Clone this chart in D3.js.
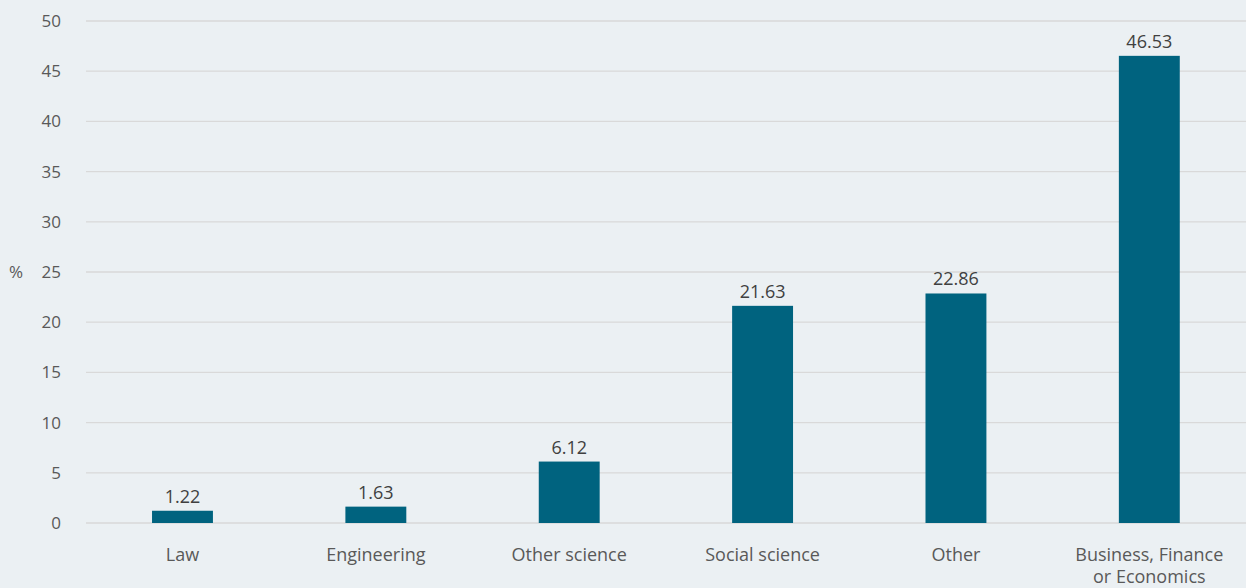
<!DOCTYPE html>
<html>
<head>
<meta charset="utf-8">
<script src="https://cdn.jsdelivr.net/npm/d3@7"></script>
<style>
  html, body { margin: 0; padding: 0; background: #ebf0f3; }
  svg { display: block; }
  text { font-family: "Open Sans", "Noto Sans", sans-serif; }
</style>
</head>
<body>
<svg id="chart" width="1246" height="588"></svg>
<script>
// Field of study shares (%)
const categories = ["Law", "Engineering", "Other science", "Social science", "Other", "Business, Finance\nor Economics"];
const values = [1.22, 1.63, 6.12, 21.63, 22.86, 46.53];
const yTicks = [0, 5, 10, 15, 20, 25, 30, 35, 40, 45, 50];

const W = 1246, H = 588;
const svg = d3.select("#chart");
svg.append("rect").attr("width", W).attr("height", H).attr("fill", "#ebf0f3");

const x = d3.scaleBand().domain(categories).range([85.8, 1246]).paddingInner(0.685).paddingOuter(0.3425);
const y = d3.scaleLinear().domain([0, 50]).range([523, 21]);

// Horizontal gridlines
svg.append("g").selectAll("line").data(yTicks).join("line")
  .attr("x1", 86).attr("x2", W)
  .attr("y1", d => y(d)).attr("y2", d => y(d))
  .attr("stroke", "#d9d9d9").attr("stroke-width", 1.3);

// Y axis labels
const yAxis = d3.axisLeft(y).tickValues(yTicks).tickSize(0).tickPadding(0);
const gy = svg.append("g").attr("transform", "translate(61,0)").call(yAxis);
gy.select(".domain").remove();
gy.selectAll("text").attr("font-size", 17).attr("fill", "#595959")
  .attr("font-family", "'Open Sans', sans-serif");

svg.append("text").attr("x", 16).attr("y", y(25)).attr("dy", "0.35em")
  .attr("text-anchor", "middle").attr("font-size", 17).attr("fill", "#595959").text("%");

// Bars
svg.append("g").selectAll("rect").data(values).join("rect")
  .attr("x", (d, i) => x(categories[i]))
  .attr("width", x.bandwidth())
  .attr("y", d => y(d))
  .attr("height", d => y(0) - y(d))
  .attr("fill", "#00637f");

// Value labels
svg.append("g").selectAll("text").data(values).join("text")
  .attr("x", (d, i) => x(categories[i]) + x.bandwidth() / 2)
  .attr("y", d => y(d) - 8)
  .attr("text-anchor", "middle").attr("font-size", 18).attr("fill", "#404040")
  .text(d => d.toFixed(2));

// Category labels
const cl = svg.append("g").selectAll("text").data(categories).join("text")
  .attr("x", d => x(d) + x.bandwidth() / 2)
  .attr("y", 561)
  .attr("text-anchor", "middle").attr("font-size", 18).attr("fill", "#595959");
cl.selectAll("tspan").data(d => d.split("\n").map(s => ({ s, cx: x(d) + x.bandwidth() / 2 })))
  .join("tspan")
  .attr("x", t => t.cx)
  .attr("dy", (t, i) => i === 0 ? 0 : 22)
  .text(t => t.s);
</script>
</body>
</html>
